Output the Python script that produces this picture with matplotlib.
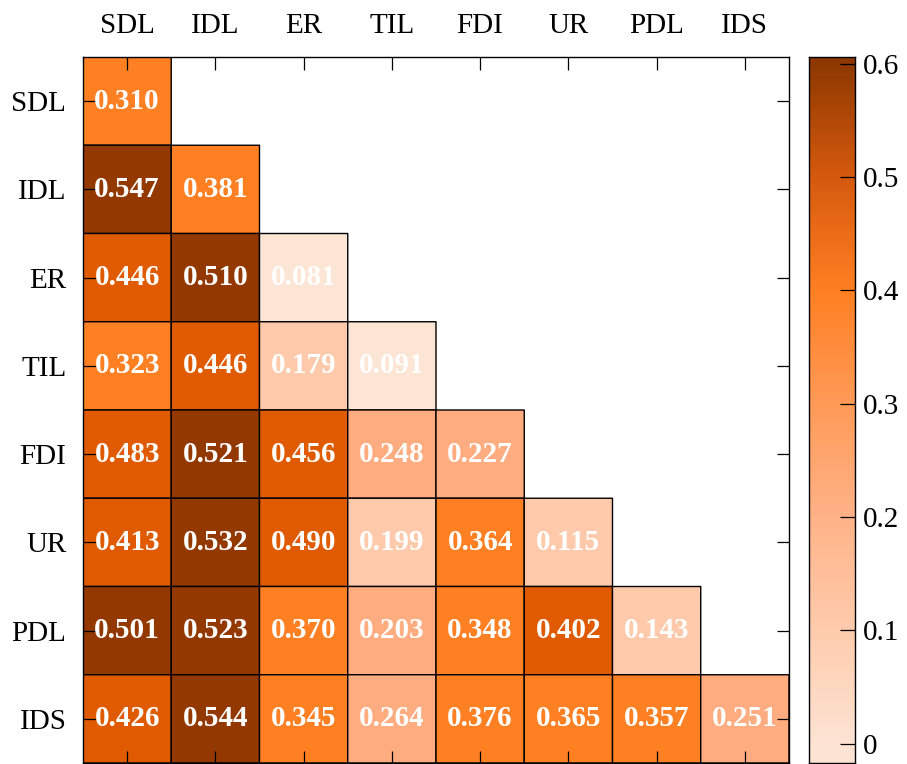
import numpy as np
import matplotlib
matplotlib.use("Agg")
import matplotlib.pyplot as plt
from matplotlib.colors import LinearSegmentedColormap, ListedColormap, BoundaryNorm, Normalize
from matplotlib.ticker import FixedLocator, FuncFormatter

plt.rcParams["font.family"] = ["Liberation Serif", "DejaVu Serif"]

labels = ["SDL", "IDL", "ER", "TIL", "FDI", "UR", "PDL", "IDS"]

# lower-triangular coefficients, row by row
row_SDL = [0.310]
row_IDL = [0.547, 0.381]
row_ER = [0.446, 0.510, 0.081]
row_TIL = [0.323, 0.446, 0.179, 0.091]
row_FDI = [0.483, 0.521, 0.456, 0.248, 0.227]
row_UR = [0.413, 0.532, 0.490, 0.199, 0.364, 0.115]
row_PDL = [0.501, 0.523, 0.370, 0.203, 0.348, 0.402, 0.143]
row_IDS = [0.426, 0.544, 0.345, 0.264, 0.376, 0.365, 0.357, 0.251]
rows = [row_SDL, row_IDL, row_ER, row_TIL, row_FDI, row_UR, row_PDL, row_IDS]

level_bounds = [0.0, 0.1, 0.2, 0.3, 0.4, 0.5, 0.6]
level_colors = ["#FDE5D5", "#FECAAB", "#FFAD80", "#FF7F23", "#E05A00", "#933900"]
bar_colors = ["#FDE3D3", "#FECBAC", "#FFB287", "#FF9A57", "#FF7F22", "#D65A0E", "#8E3800"]
bar_ticks = [0.0, 0.1, 0.2, 0.3, 0.4, 0.5, 0.6]

n = len(labels)
data = np.full((n, n), np.nan)
for i, r in enumerate(rows):
    data[i, :len(r)] = r
masked = np.ma.masked_invalid(data)

W, H = 907, 764
fig = plt.figure(figsize=(W / 100, H / 100), dpi=100)
ax = fig.add_axes([83 / W, 1 - 763 / H, 706 / W, 706 / H])

cell_cmap = ListedColormap(level_colors)
cell_norm = BoundaryNorm(level_bounds, cell_cmap.N)
# pcolor drops masked cells entirely, so the upper triangle stays blank
ax.pcolor(np.arange(n + 1), np.arange(n + 1), masked, cmap=cell_cmap, norm=cell_norm,
          edgecolors="black", linewidth=1.0)

for i, r in enumerate(rows):
    for j, v in enumerate(r):
        ax.text(j + 0.5, i + 0.5, f"{v:.3f}", ha="center", va="center", color="white",
                fontsize=21, fontweight="bold")

ax.set_xlim(0, n)
ax.set_ylim(n, 0)
ax.set_xticks(np.arange(n) + 0.5)
ax.set_yticks(np.arange(n) + 0.5)
ax.set_xticklabels(labels)
ax.set_yticklabels(labels)
ax.xaxis.tick_top()
ax.tick_params(axis="x", which="both", top=True, bottom=True, labeltop=True, labelbottom=False,
               direction="in", length=9, width=0.9, labelsize=21, pad=13)
ax.tick_params(axis="y", which="both", left=True, right=True, labelleft=True, labelright=False,
               direction="in", length=9, width=0.9, labelsize=21, pad=12)
for s in ax.spines.values():
    s.set_linewidth(1.0)

# colour bar
cax = fig.add_axes([809 / W, 1 - 763 / H, 46 / W, 706 / H])
ylo, yhi = -0.017, 0.606
bar_cmap = LinearSegmentedColormap.from_list("bar", list(zip(np.array(bar_ticks) / 0.6, bar_colors)))
edges = np.linspace(ylo, yhi, 301)
mids = 0.5 * (edges[:-1] + edges[1:])
cax.pcolormesh([0, 1], edges, mids.reshape(-1, 1), cmap=bar_cmap, norm=Normalize(0, 0.6))
cax.set_xlim(0, 1)
cax.set_ylim(ylo, yhi)
cax.set_xticks([])
cax.yaxis.tick_right()
cax.yaxis.set_major_locator(FixedLocator(bar_ticks))
cax.yaxis.set_major_formatter(FuncFormatter(lambda v, p: "0" if abs(v) < 1e-9 else f"{v:.1f}"))
cax.tick_params(axis="y", direction="in", length=11, width=0.9, labelsize=21, pad=6)
for s in cax.spines.values():
    s.set_linewidth(1.0)

fig.savefig("out.png", dpi=100)
